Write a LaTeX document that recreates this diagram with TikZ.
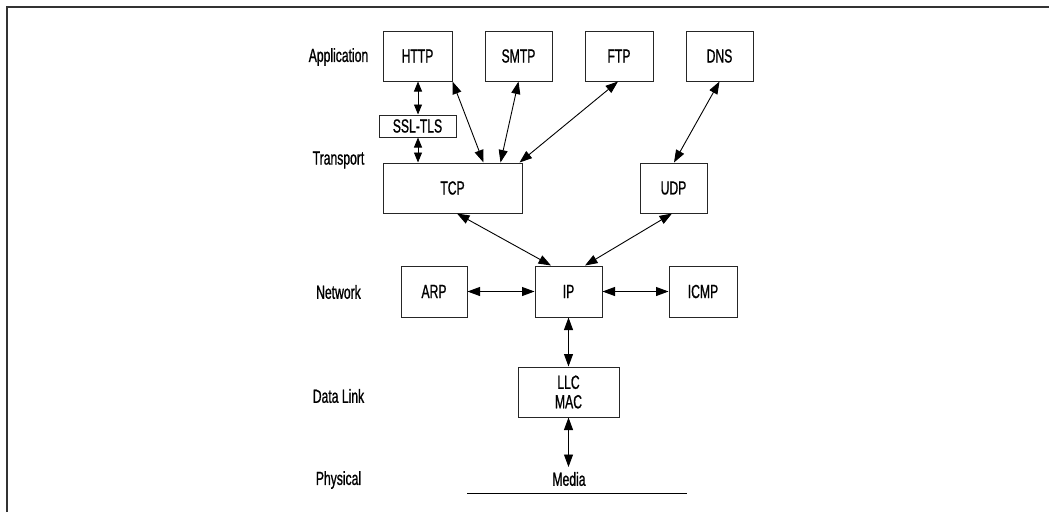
\documentclass[tikz,border=0pt]{standalone}
\usepackage{fontspec}
\setmainfont[FakeStretch=0.64,BoldFont=Liberation Sans,BoldFeatures={FakeBold=0.9}]{Liberation Sans}
\usetikzlibrary{arrows.meta,calc}
\tikzset{
  lbl/.style={font=\bfseries\fontsize{19}{19.5}\selectfont},
  proto/.style={draw=black!85, line width=1pt, inner sep=0pt, lbl},
  layer/.style={inner sep=0pt, lbl},
  link/.style={line width=0.9pt, {Triangle[length=12.5pt,width=9pt]}-{Triangle[length=12.5pt,width=9pt]}},
  shortlink/.style={line width=0.9pt, {Triangle[length=10pt,width=8pt]}-{Triangle[length=10pt,width=8pt]}},
  frame/.style={line width=2pt, draw=black!80}
}
\begin{document}
\begin{tikzpicture}[x=1pt,y=-1pt]
\useasboundingbox (0,0) rectangle (1049,512);
% page frame (top and left rules only)
\draw[frame] (6.5,512) -- (6.5,6.5) -- (1049,6.5);

% layer names
\node[layer] (lapp)  at (338.5,57)  {Application};
\node[layer] (ltra)  at (338.5,160) {Transport};
\node[layer] (lnet)  at (338.5,292) {Network};
\node[layer] (llink) at (338.5,396) {Data Link};
\node[layer] (lphy)  at (338.5,480) {Physical};

% protocol boxes
\node[proto, minimum width=69pt, minimum height=50pt] (http) at (417.5,56) {HTTP};
\node[proto, minimum width=67pt, minimum height=50pt] (smtp) at (518.5,56) {SMTP};
\node[proto, minimum width=68pt, minimum height=50pt] (ftp)  at (619,56)   {FTP};
\node[proto, minimum width=67pt, minimum height=50pt] (dns)  at (719.5,56) {DNS};
\node[proto, minimum width=77pt, minimum height=22pt] (ssl)  at (417.5,126) {SSL-TLS};
\node[proto, minimum width=139pt, minimum height=50pt] (tcp) at (452.5,188) {TCP};
\node[proto, minimum width=67pt, minimum height=50pt] (udp)  at (673.5,188) {UDP};
\node[proto, minimum width=66pt, minimum height=51pt] (arp)  at (434,291.5) {ARP};
\node[proto, minimum width=67pt, minimum height=51pt] (ip)   at (568.5,291.5) {IP};
\node[proto, minimum width=68pt, minimum height=51pt] (icmp) at (703,291.5) {ICMP};
\node[proto, minimum width=101pt, minimum height=50pt, align=center] (llc) at (568.5,392)
  {LLC\\MAC};

% physical medium
\node[layer] (media) at (569,479) {Media};
\coordinate (mediaL) at (467,493);
\coordinate (mediaR) at (687,493);
\coordinate (mediaTop) at (568.5,467);
\draw[line width=1pt] (mediaL) -- (mediaR);

% connectors
\draw[shortlink] ([xshift=0.5pt]http.south) -- ([xshift=0.5pt]ssl.north);
\draw[shortlink] ([xshift=0.5pt]ssl.south) -- ([xshift=-34.5pt]tcp.north);
\draw[link] (http.south east) -- ([xshift=101pt]tcp.north west);
\draw[link] (smtp.south) -- ([xshift=118pt]tcp.north west);
\draw[link] ([xshift=-1pt]ftp.south) -- ([xshift=-3pt]tcp.north east);
\draw[link] (dns.south) -- ([xshift=0.5pt]udp.north);
\draw[link] ([xshift=4.5pt]tcp.south) -- ([xshift=-17.5pt]ip.north);
\draw[link] ([xshift=-1.5pt]udp.south) -- ([xshift=16.5pt]ip.north);
\draw[link] (arp.east) -- (ip.west);
\draw[link] (ip.east) -- (icmp.west);
\draw[link] (ip.south) -- (llc.north);
\draw[link] (llc.south) -- (mediaTop);
\end{tikzpicture}
\end{document}
